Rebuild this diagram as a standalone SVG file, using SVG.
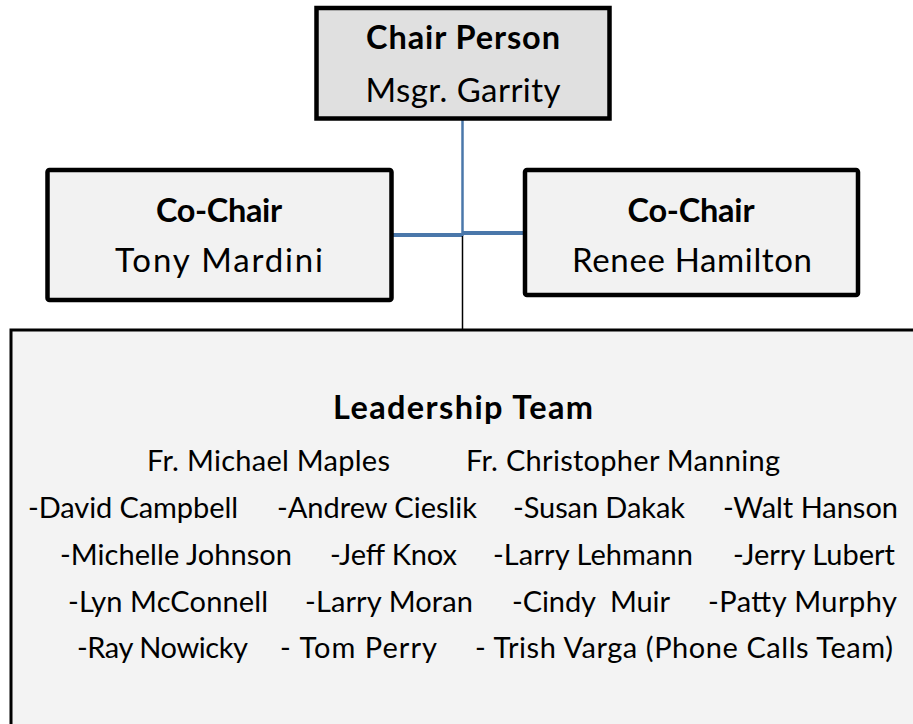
<svg xmlns="http://www.w3.org/2000/svg" width="913" height="724" viewBox="0 0 913 724">
<style>
text{font-family:Lato,"Liberation Sans",sans-serif;fill:#000;white-space:pre}
.t{font-weight:bold;font-size:32.5px;text-anchor:middle}
.n{font-size:33px;text-anchor:middle}
.l{font-size:29px}
.box{stroke:#000;stroke-width:4.5}
</style>
<rect width="913" height="724" fill="#fff"/>
<g id="connectors" fill="none">
<line x1="462.5" y1="120" x2="462.5" y2="236" stroke="#4a77aa" stroke-width="2.5"/>
<line x1="393" y1="235" x2="462" y2="235" stroke="#4a77aa" stroke-width="4"/>
<line x1="463" y1="233" x2="523" y2="233" stroke="#4a77aa" stroke-width="4"/>
<line x1="462.5" y1="236" x2="462.5" y2="330" stroke="#000" stroke-width="1.5"/>
</g>
<g id="chair">
<rect class="box" x="316.5" y="8" width="293" height="110.5" fill="#e0e0e0" stroke-width="4"/>
<text class="t" x="463" y="49" textLength="194" lengthAdjust="spacing">Chair Person</text>
<text class="n" x="463" y="102" textLength="195" lengthAdjust="spacing">Msgr. Garrity</text>
</g>
<g id="cochair-left">
<rect class="box" x="47.5" y="170" width="344" height="130" rx="2" fill="#f2f2f2"/>
<text class="t" x="219" y="222" textLength="126" lengthAdjust="spacing">Co-Chair</text>
<text class="n" x="219" y="272" textLength="208" lengthAdjust="spacing">Tony Mardini</text>
</g>
<g id="cochair-right">
<rect class="box" x="525" y="170" width="333" height="125" rx="2" fill="#f2f2f2"/>
<text class="t" x="691" y="222" textLength="127" lengthAdjust="spacing">Co-Chair</text>
<text class="n" x="692" y="272" textLength="240" lengthAdjust="spacing">Renee Hamilton</text>
</g>
<g id="leadership">
<rect x="11" y="330" width="930" height="420" fill="#f3f3f3" stroke="#000" stroke-width="3"/>
<text class="t" x="463" y="419" textLength="260" lengthAdjust="spacing">Leadership Team</text>
<text class="l" x="147" y="471" textLength="243" lengthAdjust="spacing">Fr. Michael Maples</text>
<text class="l" x="466" y="471" textLength="314" lengthAdjust="spacing">Fr. Christopher Manning</text>
<text class="l" x="28" y="518" textLength="210" lengthAdjust="spacing">-David Campbell</text>
<text class="l" x="277" y="518" textLength="200" lengthAdjust="spacing">-Andrew Cieslik</text>
<text class="l" x="513" y="518" textLength="172" lengthAdjust="spacing">-Susan Dakak</text>
<text class="l" x="723" y="518" textLength="175" lengthAdjust="spacing">-Walt Hanson</text>
<text class="l" x="60" y="565" textLength="232" lengthAdjust="spacing">-Michelle Johnson</text>
<text class="l" x="330" y="565" textLength="127" lengthAdjust="spacing">-Jeff Knox</text>
<text class="l" x="493" y="565" textLength="200" lengthAdjust="spacing">-Larry Lehmann</text>
<text class="l" x="733" y="565" textLength="162" lengthAdjust="spacing">-Jerry Lubert</text>
<text class="l" x="68" y="612" textLength="200" lengthAdjust="spacing">-Lyn McConnell</text>
<text class="l" x="305" y="612" textLength="168" lengthAdjust="spacing">-Larry Moran</text>
<text class="l" x="512" y="612" textLength="158" lengthAdjust="spacing">-Cindy  Muir</text>
<text class="l" x="708" y="612" textLength="189" lengthAdjust="spacing">-Patty Murphy</text>
<text class="l" x="77" y="658" textLength="171" lengthAdjust="spacing">-Ray Nowicky</text>
<text class="l" x="280" y="658" textLength="157" lengthAdjust="spacing">- Tom Perry</text>
<text class="l" x="475" y="658" textLength="418" lengthAdjust="spacing">- Trish Varga (Phone Calls Team)</text>
</g>
</svg>
